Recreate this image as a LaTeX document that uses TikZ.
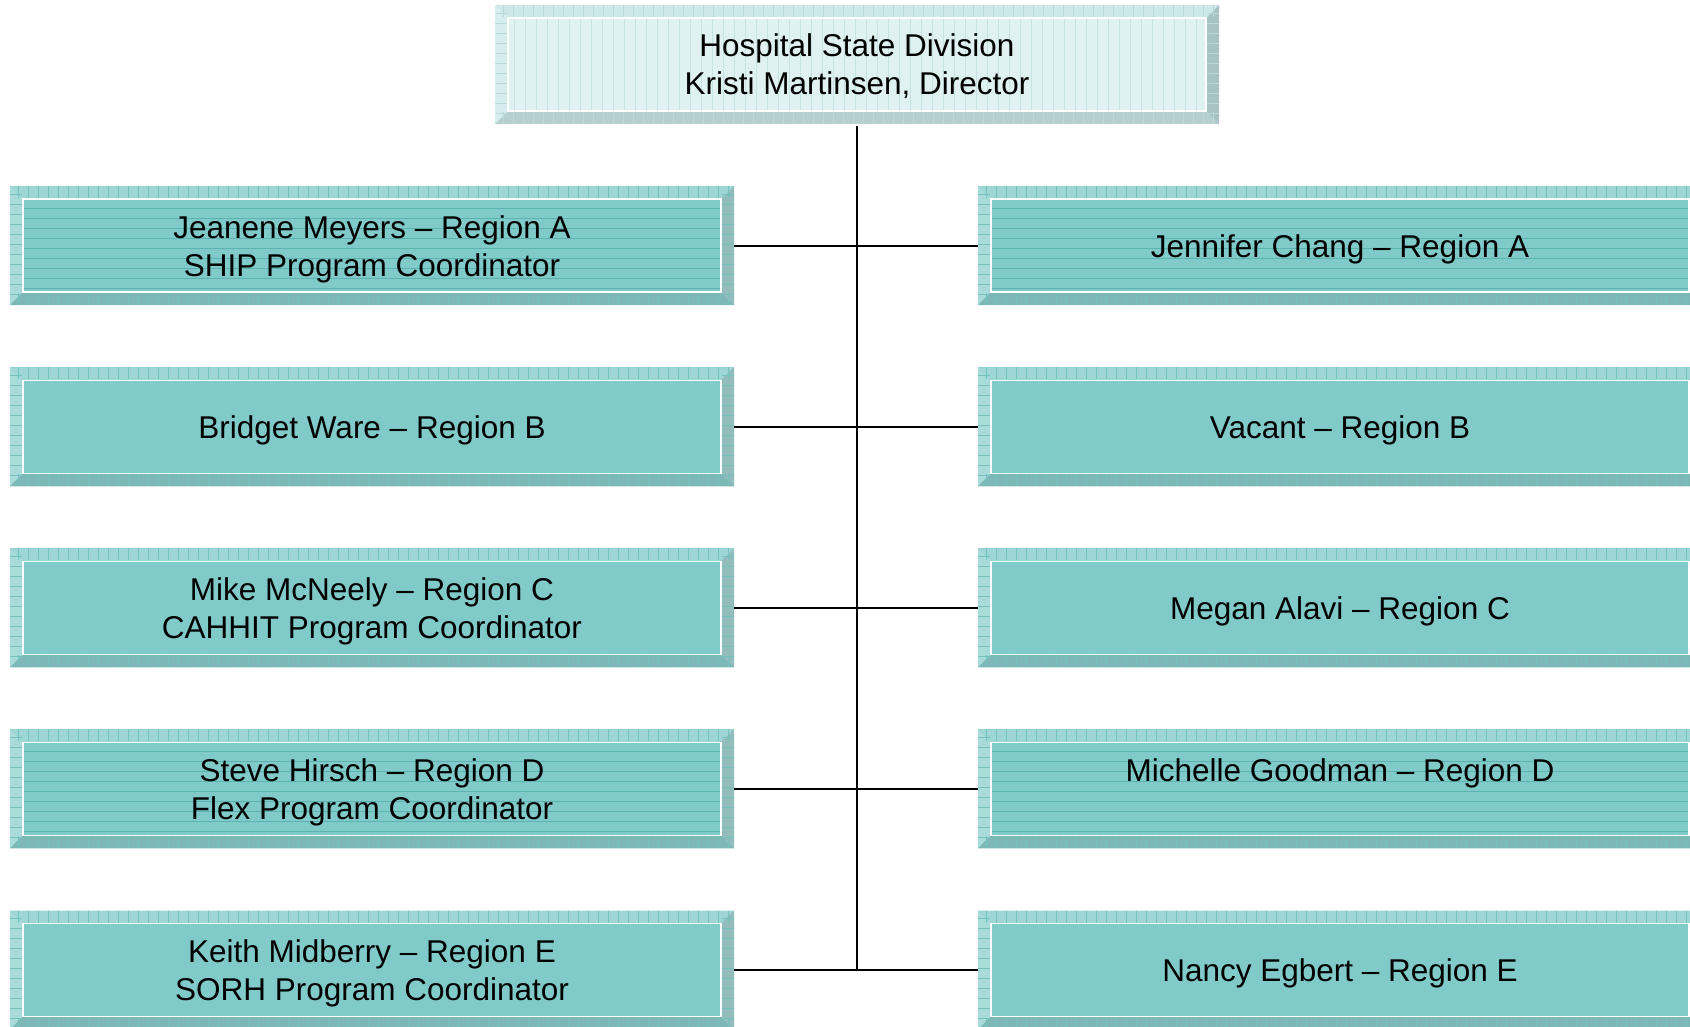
\documentclass[tikz,border=0pt]{standalone}
\usepackage{fontspec}
\setmainfont{Liberation Sans}
\definecolor{faceT}{HTML}{80CBC9}
\definecolor{topT}{HTML}{9DD6D4}
\definecolor{leftT}{HTML}{A8DCDA}
\definecolor{botT}{HTML}{7DB8B7}
\definecolor{rightT}{HTML}{93BDBC}
\definecolor{lineT}{HTML}{5DB3B1}
\definecolor{tickT}{HTML}{74C2C0}
\definecolor{faceP}{HTML}{DFF1F1}
\definecolor{topP}{HTML}{CDE8E8}
\definecolor{leftP}{HTML}{D6EDED}
\definecolor{botP}{HTML}{B5CFCF}
\definecolor{rightP}{HTML}{A6C2C2}
\definecolor{lineP}{HTML}{C6E2E2}
\definecolor{tickP}{HTML}{B9D9D9}

\newcommand\bvlbody[6]{%
  #5%
  \fill[#1] (path picture bounding box.north west) -- (path picture bounding box.north east) -- ([shift={(-13pt,-13pt)}]path picture bounding box.north east) -- ([shift={(13pt,-13pt)}]path picture bounding box.north west) -- cycle;
  \fill[#2] (path picture bounding box.north west) -- ([shift={(13pt,-13pt)}]path picture bounding box.north west) -- ([shift={(13pt,13pt)}]path picture bounding box.south west) -- (path picture bounding box.south west) -- cycle;
  \fill[#3] (path picture bounding box.south west) -- ([shift={(13pt,13pt)}]path picture bounding box.south west) -- ([shift={(-13pt,13pt)}]path picture bounding box.south east) -- (path picture bounding box.south east) -- cycle;
  \fill[#4] (path picture bounding box.north east) -- (path picture bounding box.south east) -- ([shift={(-13pt,13pt)}]path picture bounding box.south east) -- ([shift={(-13pt,-13pt)}]path picture bounding box.north east) -- cycle;
  #6%
  \draw[white, line width=1.6pt] ([shift={(13pt,-13pt)}]path picture bounding box.north west) rectangle ([shift={(-13pt,13pt)}]path picture bounding box.south east);
}
\newcommand\bvlticks[1]{%
  \foreach \t in {8,18,...,718} {%
    \draw[#1, line width=0.6pt] ([xshift=\t pt]path picture bounding box.north west) -- ++(0,-12pt);
    \draw[#1, line width=0.6pt] ([xshift=\t pt]path picture bounding box.south west) -- ++(0,12pt);}%
  \foreach \t in {8,18,...,112} {%
    \draw[#1, line width=0.6pt] ([yshift=-\t pt]path picture bounding box.north west) -- ++(12pt,0);
    \draw[#1, line width=0.6pt] ([yshift=-\t pt]path picture bounding box.north east) -- ++(-12pt,0);}%
}
\newcommand\hpat{%
  \foreach \t in {22,32,...,102} {\draw[lineT, line width=0.9pt] ([yshift=-\t pt]path picture bounding box.north west) -- ++(724pt,0);}%
}
\newcommand\vpat{%
  \foreach \t in {8,19,...,720} {\draw[lineP, line width=0.8pt] ([xshift=\t pt]path picture bounding box.north west) -- ++(0,-119pt);}%
}
% centred text block: cap-height centred on the node centre
\newcommand\tx[1]{\begin{tabular}{@{}c@{}}\rule{0pt}{34.6pt}#1\rule[-12pt]{0pt}{12pt}\end{tabular}}

\tikzset{
  box/.style={rectangle, inner sep=0pt, outer sep=0pt, minimum width=724pt, minimum height=119pt,
    text=black, font=\fontsize{31.5pt}{38pt}\selectfont},
  tealbox/.style={box, fill=faceT, path picture={\bvlbody{topT}{leftT}{botT}{rightT}{#1}{\bvlticks{tickT}}}},
  tealbox/.default={},
  palebox/.style={box, fill=faceP, path picture={\bvlbody{topP}{leftP}{botP}{rightP}{\vpat}{\bvlticks{tickP}}}},
  link/.style={draw=black, line width=2.2pt},
}

\begin{document}
\begin{tikzpicture}[x=1pt, y=1pt]
\useasboundingbox (0,0) rectangle (1690,-1026);

\node[palebox] (top) at (857,-64.5) {\tx{Hospital State Division\\Kristi Martinsen, Director}};

\node[tealbox=\hpat] (l1) at (372,-245.7) {\tx{Jeanene Meyers – Region A\\SHIP Program Coordinator}};
\node[tealbox] (l2) at (372,-426.8) {\tx{Bridget Ware – Region B}};
\node[tealbox] (l3) at (372,-607.9) {\tx{Mike McNeely – Region C\\CAHHIT Program Coordinator}};
\node[tealbox=\hpat] (l4) at (372,-788.9) {\tx{Steve Hirsch – Region D\\Flex Program Coordinator}};
\node[tealbox] (l5) at (372,-970) {\tx{Keith Midberry – Region E\\SORH Program Coordinator}};

\node[tealbox=\hpat] (r1) at (1340,-245.7) {\tx{Jennifer Chang – Region A}};
\node[tealbox] (r2) at (1340,-426.8) {\tx{Vacant – Region B}};
\node[tealbox] (r3) at (1340,-607.9) {\tx{Megan Alavi – Region C}};
\node[tealbox=\hpat] (r4) at (1340,-788.9) {\tx{Michelle Goodman – Region D\\}};
\node[tealbox] (r5) at (1340,-970) {\tx{Nancy Egbert – Region E}};

\coordinate (trunk) at (top.south |- l5.east);
\draw[link, shorten <=2pt] (top.south) -- (trunk);
\foreach \i in {1,...,5} {\draw[link] (l\i.east) -- (r\i.west);}
\end{tikzpicture}
\end{document}
